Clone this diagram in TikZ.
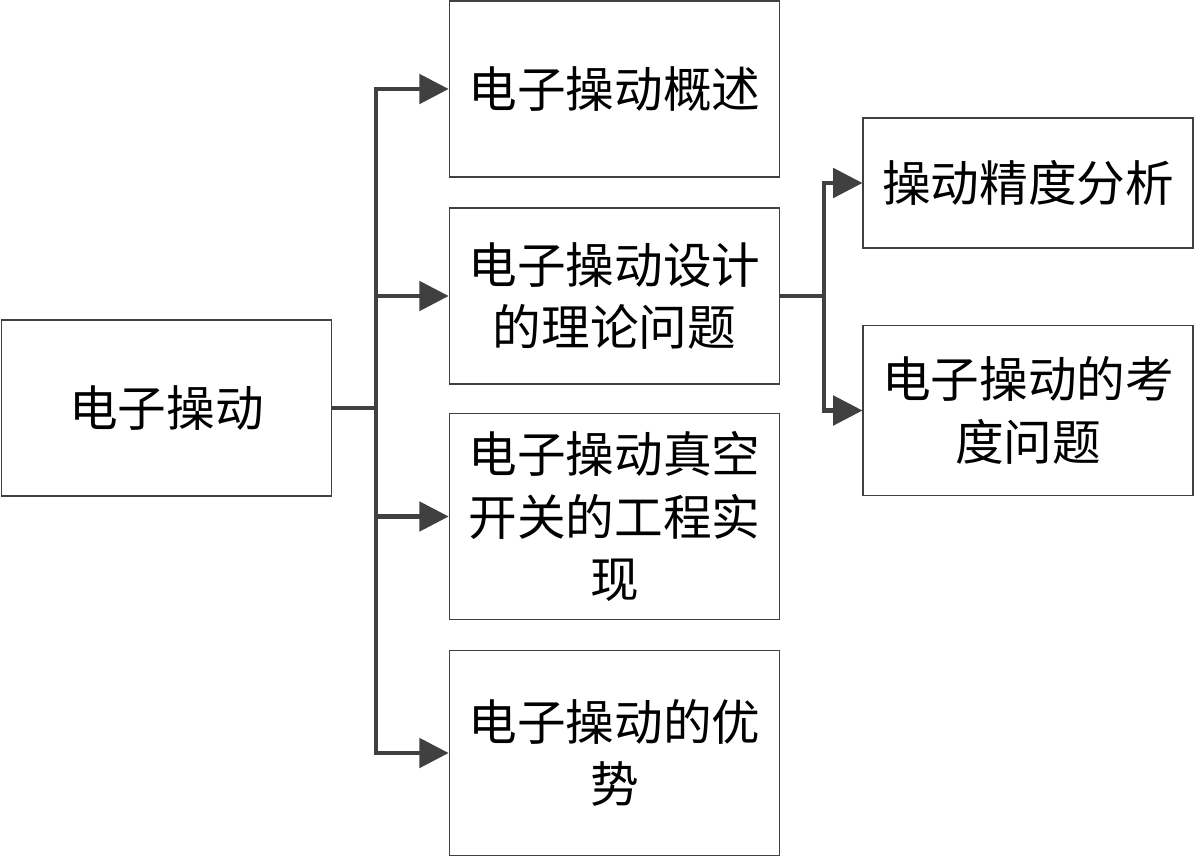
\documentclass[tikz,border=0pt]{standalone}
\usepackage{fontspec}
\newfontfamily\cjk{Noto Sans CJK SC}
\usetikzlibrary{arrows.meta}
\definecolor{linkgray}{HTML}{404040}

\tikzset{
  topic/.style={draw=linkgray, line width=0.8pt, inner sep=0pt, align=center,
    minimum width=248pt, font=\cjk\fontsize{36.5}{47}\selectfont},
  link/.style={draw=linkgray, line width=3.2pt},
  linkarrow/.style={link, -{Triangle[length=22pt, width=22pt]}}
}

\begin{document}
\begin{tikzpicture}[x=0.75pt, y=-0.75pt]
    \useasboundingbox (0,0) rectangle (1195,857);
    % nodes
    \node[topic, minimum width=247pt, minimum height=132pt] (root) at (166.5,408) {电子操动};
    \node[topic, minimum height=132pt] (intro) at (614.5,89) {电子操动概述};
    \node[topic, minimum height=132pt] (theory) at (614.5,296) {电子操动设计\\的理论问题};
    \node[topic, minimum height=155pt] (vacuum) at (614.5,516.5) {电子操动真空\\开关的工程实\\现};
    \node[topic, minimum height=154pt] (merit) at (614.5,753) {电子操动的优\\势};
    \node[topic, minimum width=247.5pt, minimum height=97.5pt] (accuracy) at (1028,183) {操动精度分析};
    \node[topic, minimum width=247.5pt, minimum height=128pt] (issues) at (1028,410.5) {电子操动的考\\度问题};
    % junctions
    \coordinate (j1) at (376,408);
    \coordinate (j2) at (824,296);
    % connectors
    \draw[link] (root.east) -- (j1);
    \foreach \n in {intro, theory, vacuum, merit}
      \draw[linkarrow] (j1) |- (\n.west);
    \draw[link] (theory.east) -- (j2);
    \foreach \n in {accuracy, issues}
      \draw[linkarrow] (j2) |- (\n.west);
  \end{tikzpicture}
\end{document}
